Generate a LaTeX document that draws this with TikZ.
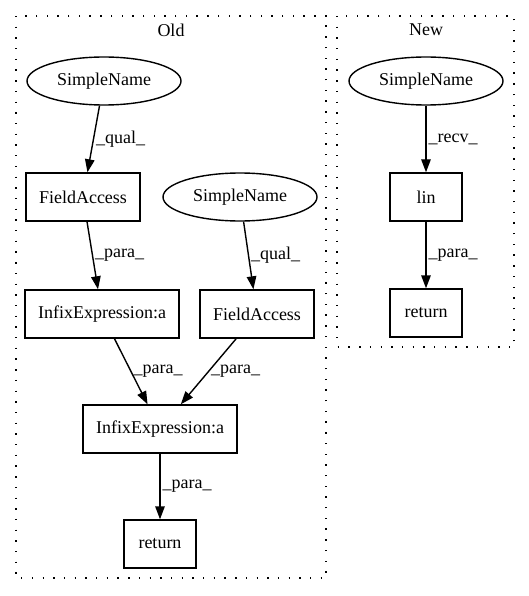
\documentclass[tikz,border=0pt]{standalone}
\usepackage{fontspec}
\setmainfont{Liberation Serif}
\usetikzlibrary{shapes.geometric,arrows.meta}

\begin{document}
\begin{tikzpicture}[x=1pt,y=-1pt,
  every node/.style={font=\fontsize{18}{22}\selectfont},
  box/.style={draw,rectangle,line width=1.4pt,minimum height=48pt,minimum width=72pt,inner xsep=13pt},
  oval/.style={draw,ellipse,line width=1.4pt,minimum height=48pt,minimum width=154pt,inner sep=0pt},
  flow/.style={line width=1.4pt,-{Triangle[length=13pt,width=9.5pt]}},
  lbl/.style={anchor=west,inner xsep=2pt},
  cluster/.style={line width=1.4pt,dash pattern=on 1.4pt off 9.3pt}]

\useasboundingbox (0,0) rectangle (529,596);

\draw[cluster] (16,16) rectangle (326,578);
\draw[cluster] (337,16) rectangle (514,347);

\node (lold) at (171,30) {Old};
\node (lnew) at (426,30) {New};

\node[oval] (sn1) at (104,81) {SimpleName};
\node[box] (fa1) at (83,197) {FieldAccess};
\node[oval] (sn2) at (240,197) {SimpleName};
\node[box] (ie1) at (102,314) {InfixExpression:a};
\node[box] (fa2) at (257,314) {FieldAccess};
\node[box] (ie2) at (160,429) {InfixExpression:a};
\node[box] (ret1) at (160,544) {return};

\node[oval] (sn3) at (426,81) {SimpleName};
\node[box] (lin) at (426,197) {lin};
\node[box] (ret2) at (426,313) {return};

\draw[flow] (sn1) -- node[lbl] {\_qual\_} (fa1);
\draw[flow] (fa1) -- node[lbl] {\_para\_} (ie1);
\draw[flow] (sn2) -- node[lbl] {\_qual\_} (fa2);
\draw[flow] (ie1) -- node[lbl] {\_para\_} (ie2);
\draw[flow] (fa2) -- node[lbl] {\_para\_} (ie2);
\draw[flow] (ie2) -- node[lbl] {\_para\_} (ret1);

\draw[flow] (sn3) -- node[lbl] {\_recv\_} (lin);
\draw[flow] (lin) -- node[lbl] {\_para\_} (ret2);
\end{tikzpicture}
\end{document}
